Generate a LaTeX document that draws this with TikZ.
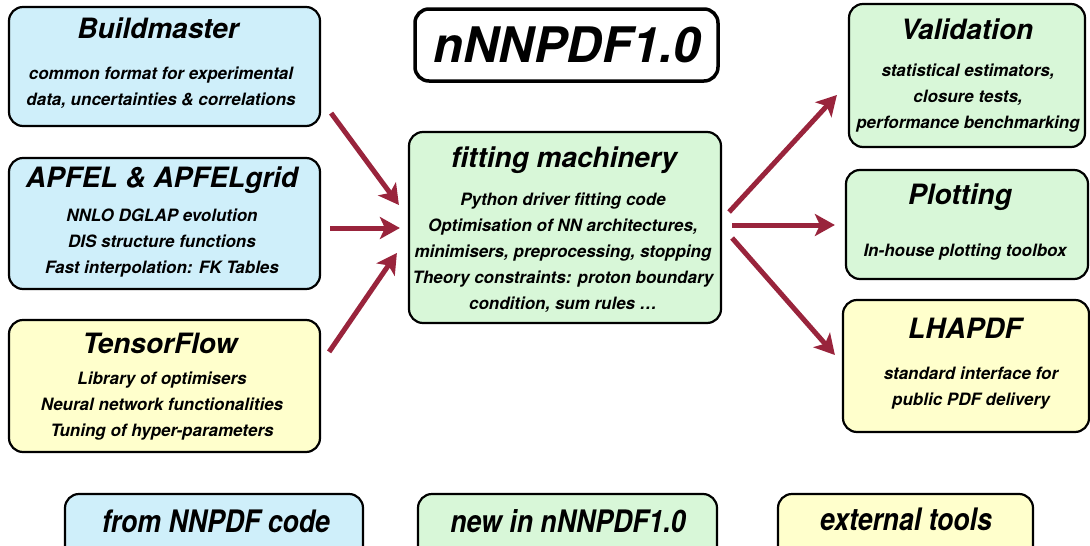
\documentclass[tikz,border=0pt]{standalone}
\usepackage{fontspec}
\setmainfont{TeX Gyre Heros}
\usetikzlibrary{arrows.meta,positioning}
\definecolor{oldblue}{RGB}{207,239,250}
\definecolor{newgreen}{RGB}{216,247,216}
\definecolor{extyellow}{RGB}{255,255,204}
\definecolor{flowred}{RGB}{153,36,60}
\tikzstyle{block} = [draw, line width=2.2pt, rounded corners=14pt,
    inner sep=0pt]
\tikzstyle{oldblock} = [block, fill=oldblue]
\tikzstyle{newblock} = [block, fill=newgreen]
\tikzstyle{extblock} = [block, fill=extyellow]
\tikzstyle{heading} = [font=\fontsize{28}{32}\selectfont\bfseries\itshape]
\tikzstyle{body} = [align=center, inner sep=0pt,
    font=\fontsize{17}{26}\selectfont\bfseries\itshape]
\tikzstyle{legend} = [font=\fontsize{31}{34}\selectfont\bfseries\itshape]
\tikzstyle{flow} = [line width=5pt, draw=flowred,
    -{Stealth[length=20pt,width=22pt,inset=5pt,fill=flowred]}]
\begin{document}
\begin{tikzpicture}[x=1pt, y=-1pt]
\useasboundingbox (0,0) rectangle (1090,546);
% Boxes
	\node [oldblock, minimum width=311pt, minimum height=119pt] (build) at (164.5,66.5) {};
	\node [oldblock, minimum width=311pt, minimum height=131pt] (apfel) at (164.5,223.5) {};
	\node [extblock, minimum width=311pt, minimum height=132pt] (tensor) at (164.5,386) {};
	\node [block, line width=3.5pt, minimum width=303pt, minimum height=72pt] (logo) at (566.5,45) {};
	\node [newblock, minimum width=312pt, minimum height=191pt] (fit) at (565,227.5) {};
	\node [newblock, minimum width=236pt, minimum height=143pt] (valid) at (967,75.5) {};
	\node [newblock, minimum width=242pt, minimum height=109pt] (plot) at (967,224.5) {};
	\node [extblock, minimum width=246pt, minimum height=132pt] (lhapdf) at (966,366) {};
% Texts
	\node [heading] (buildT) at (158,28) {Buildmaster};
	\node [body] (buildB) at (161,88) {common format for experimental\\data, uncertainties \& correlations};
	\node [heading] (apfelT) at (162,180) {APFEL \& APFELgrid};
	\node [body] (apfelB) at (162,243) {NNLO DGLAP evolution\\DIS structure functions\\Fast interpolation: FK Tables};
	\node [heading] (tensorT) at (160,343) {TensorFlow};
	\node [body] (tensorB) at (162,406) {Library of optimisers\\Neural network functionalities\\Tuning of hyper-parameters};
	\node [font=\fontsize{49}{52}\selectfont\bfseries\itshape] (logoT) at (567,45) {nNNPDF1.0};
	\node [heading] (fitT) at (564,160) {fitting machinery};
	\node [body] (fitB) at (563,253) {Python driver fitting code\\Optimisation of NN architectures,\\minimisers, preprocessing, stopping\\Theory constraints: proton boundary\\condition, sum rules \ldots};
	\node [heading] (validT) at (967,29) {Validation};
	\node [body] (validB) at (968,98.5) {statistical estimators,\\closure tests,\\performance benchmarking};
	\node [heading] (plotT) at (960,197) {Plotting};
	\node [body] (plotB) at (965,252) {In-house plotting toolbox};
	\node [heading] (lhapdfT) at (965,328) {LHAPDF};
	\node [body] (lhapdfB) at (971,388.5) {standard interface for\\public PDF delivery};
% Legend
	\node [oldblock, minimum width=298pt, minimum height=70pt] (oldkey) at (214,529) {};
	\node [newblock, minimum width=299pt, minimum height=70pt] (newkey) at (567.5,529) {};
	\node [extblock, minimum width=255pt, minimum height=70pt] (extkey) at (905.5,529) {};
	\node [legend] (oldkeyT) at (216,521) {\scalebox{0.86}[1]{from NNPDF code}};
	\node [legend] (newkeyT) at (568,521) {\scalebox{0.86}[1]{new in nNNPDF1.0}};
	\node [legend] (extkeyT) at (906,519) {\scalebox{0.86}[1]{external tools}};
% Connections
	\draw [flow] ([xshift=10pt,yshift=14pt]build.south east) -- ([xshift=-9pt,yshift=22.5pt]fit.west);
	\draw [flow] ([xshift=9pt,yshift=-4.5pt]apfel.east) -- ([xshift=-8pt,yshift=-0.5pt]fit.west);
	\draw [flow] ([xshift=8pt,yshift=-33pt]tensor.north east) -- ([xshift=-11pt,yshift=-25.5pt]fit.west);
	\draw [flow] ([xshift=7pt,yshift=15.5pt]fit.east) -- ([xshift=-11pt,yshift=-19.5pt]valid.west);
	\draw [flow] ([xshift=10pt,yshift=2.5pt]fit.east) -- ([xshift=-10pt,yshift=-0.5pt]plot.west);
	\draw [flow] ([xshift=10pt,yshift=-10.5pt]fit.east) -- ([xshift=-7pt,yshift=11pt]lhapdf.west);
\end{tikzpicture}
\end{document}
